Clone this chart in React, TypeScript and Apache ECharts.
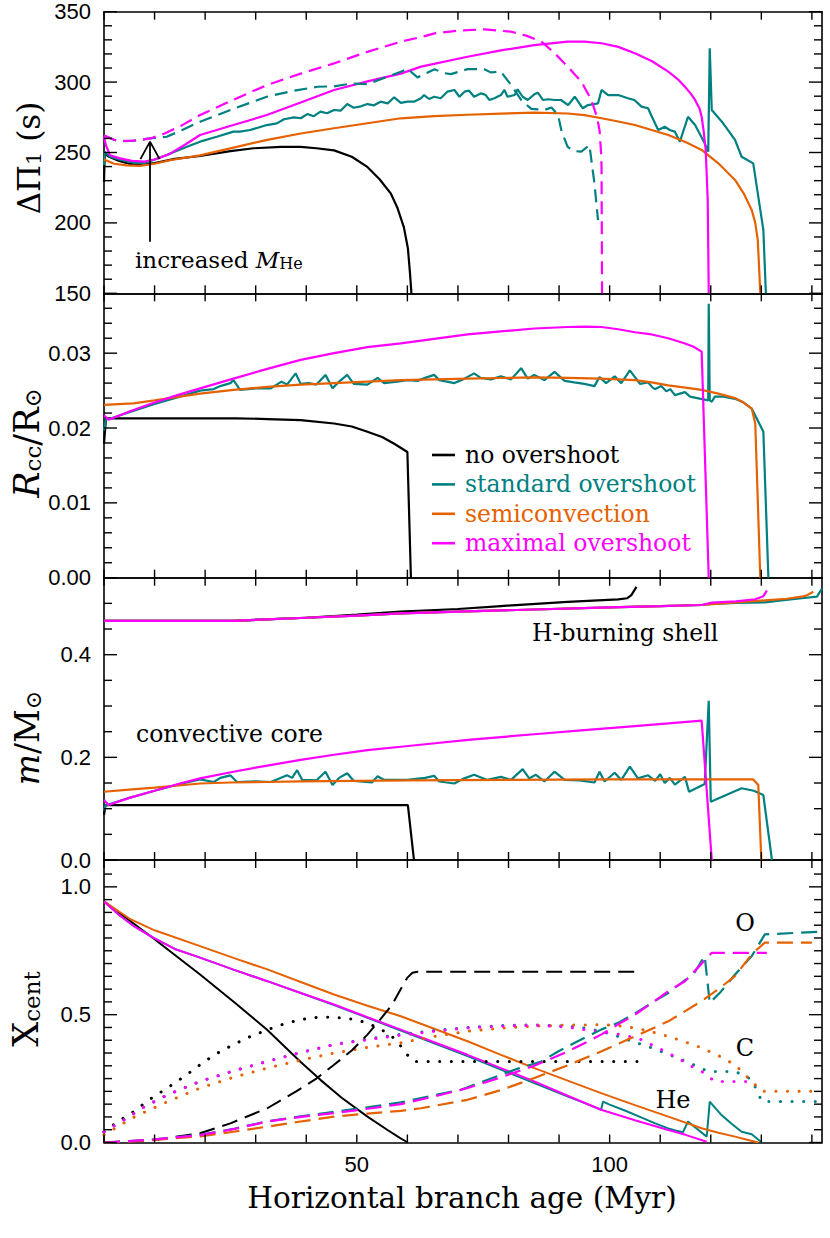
import React, { useEffect, useRef } from 'react';
import * as echarts from 'echarts';

const BLACK = '#000000';
const TEAL = '#008080';
const ORANGE = '#e66100';
const MAGENTA = '#ff00ff';
const SERIF = '"DejaVu Serif", serif';
const SANS = '"Liberation Sans", Arial, sans-serif';

const X_MAX = 142;
const xLabelValues = [50, 100];
const xTickValues = [0, 10, 20, 30, 40, 50, 60, 70, 80, 90, 100, 110, 120, 130, 140];

// tick values per panel
const p1Major = [150, 200, 250, 300, 350];
const p1Minor = [160, 170, 180, 190, 210, 220, 230, 240, 260, 270, 280, 290, 310, 320, 330, 340];
const p2Major = [0, 0.01, 0.02, 0.03];
const p2Minor = [0.002, 0.004, 0.006, 0.008, 0.012, 0.014, 0.016, 0.018, 0.022, 0.024, 0.026, 0.028, 0.032, 0.034, 0.036];
const p3Major = [0, 0.2, 0.4];
const p3Minor = [0.05, 0.1, 0.15, 0.25, 0.3, 0.35, 0.45, 0.5];
const p4Major = [0, 0.5, 1.0];
const p4Minor = [0.05, 0.1, 0.15, 0.2, 0.25, 0.3, 0.35, 0.4, 0.45, 0.55, 0.6, 0.65, 0.7, 0.75, 0.8, 0.85, 0.9, 0.95, 1.05];

// ---------- Panel 1: period spacing (s) ----------
const dpNone = [[0,229],[0.15,249],[1,247],[3,244],[5,242],[7,241],[10,242.5],[14,245.5],[19,247.5],[25,251],[29.6,253],[35,254],[38.9,254],[42,253],[45.5,251.5],[49,247],[52,240],[54.5,231],[56.7,221],[58,211],[59.3,197],[60.1,182],[60.5,165],[60.8,150]];
const dpStd = [[0,241],[0.15,250.5],[1.2,247],[3,245],[5.8,242.8],[7.8,242.3],[9.8,244.7],[12.4,248.2],[16.4,254.1],[19,257.7],[22.3,261.2],[25.6,264.8],[26.9,264.8],[28.9,266],[32.2,269.5],[34.2,270.7],[35.6,273.6],[37.6,275],[38.9,274.3],[40.2,277.3],[41.5,275.8],[42.8,279],[44.1,277.9],[45.5,280.2],[46.8,279.7],[48.1,284.4],[49.4,281.8],[50.8,282.8],[52.1,284.4],[53.4,283.5],[54.7,286.1],[56.1,284.9],[57.4,289.2],[58.7,285.2],[60,286.1],[61.3,286.1],[62.7,288.5],[63.3,290.8],[64.3,288],[65.3,289.6],[66.6,288.5],[67.9,293.2],[69.3,294.4],[70.3,289.6],[71.3,293.2],[72.2,293.9],[73.2,289.6],[74.6,292],[75.5,290.8],[76.2,287.3],[77.2,288.5],[78.5,290.8],[79.2,294.4],[79.8,289.6],[81.2,290.8],[81.8,294.9],[82.8,289.6],[83.8,287.3],[85.1,291.3],[85.8,292.5],[86.8,287.3],[87.8,287.8],[89.1,287.3],[90.4,287.3],[91.8,283.7],[93.1,289.6],[94.7,281.4],[95.7,283.7],[97.7,284.9],[98.4,294.4],[99.7,290.8],[101.7,290.8],[103.6,288.5],[104.9,287.3],[106.3,282.6],[107.6,281.4],[108.2,276.6],[109.6,266],[110.9,268.3],[111.9,266],[112.9,264.8],[113.9,257.7],[115.5,275.4],[116.9,269.5],[118.8,256.5],[119.5,250.6],[119.8,324],[120.2,280.2],[122.2,271.9],[124.8,258.9],[126.1,247],[128.4,242.3],[130.4,195],[130.9,150]];
const dpSemi = [[0,245],[2,242],[4.5,240.8],[7.1,240.5],[10,242],[13,244.5],[19,248],[25.6,253.5],[32.3,259],[38.9,263.5],[45.5,267.2],[52.1,270.8],[58.7,274.3],[65.3,275.8],[71.9,276.8],[78.5,277.6],[85.1,278.3],[91.7,277.7],[95,276.5],[98.4,274.3],[101.7,272],[105,269.5],[108.3,266],[111.6,262.4],[115,257.5],[118.2,251.8],[121.5,242.3],[124.8,230.5],[126.5,221],[128.1,209.2],[128.8,200],[129.3,187.8],[129.8,150]];
const dpMax = [[0,261],[0.4,255],[1.2,248],[3,246],[5.5,244],[8,243.5],[10,245],[13,249],[16,255.5],[19,262.4],[25.6,269.5],[32.2,276.6],[38.9,285.5],[45.5,294.4],[52.1,300.5],[58.7,306],[62.7,311],[71.9,318],[78.5,322.5],[85.1,326.3],[91.7,328.7],[95,328.7],[98.4,327.6],[101.7,325],[105,320.5],[108.3,315],[111.6,307.4],[113.5,302],[114.9,296.7],[116,292],[116.9,287.3],[117.8,281],[118.2,275.4],[118.6,265],[119,251.8],[119.4,216.3],[119.6,150]];
const dpStdHe = [[0,262],[2,259],[4,258],[6,258.5],[9,260],[12.4,261.2],[15.5,266],[19,271.9],[25.6,281],[32.2,289.6],[37,293.5],[42.2,296.7],[45.5,297],[49,299],[52.1,298.5],[55.4,303],[58.7,307.4],[60,309.5],[62,303.3],[63.5,306],[65.4,309.2],[67,306.5],[68.6,305.7],[71.9,309.2],[75.2,309.2],[76.5,306.9],[78.5,307.4],[80.5,298],[82.5,287.3],[84.5,281],[87.1,280.2],[88.5,282],[89.8,276.6],[90.5,265],[91.7,254],[93,251],[94.4,250.6],[96,255.3],[97,228],[97.7,202]];
const dpMaxHe = [[0,262],[2,259],[4,258.2],[5.8,258.4],[7.5,259],[9.2,260],[12,263.5],[15,268.5],[19,276.6],[25.6,287.5],[32.2,297.9],[38.9,306],[45.5,313.3],[52.1,321.5],[58.7,328.7],[62.7,332],[65.4,334.6],[70,336.5],[75.2,337.5],[80.5,335.8],[83.5,333],[86.5,328.7],[89,321],[91.7,311],[94.4,300.3],[96.4,287.3],[97.5,275],[98,266],[98.3,250],[98.4,240],[98.5,150]];
const arrowShaft = [[9.1,186.6],[9.1,257]];
const arrowHead = [[7.2,245.3],[9.1,257.7],[11.0,245.3]];

// ---------- Panel 2: convective core radius ----------
const rNone = [[0,0.0179],[0.4,0.0213],[10,0.02128],[19,0.0213],[26,0.0213],[32.3,0.0212],[38.9,0.02105],[45.5,0.0206],[49,0.0202],[52.1,0.0195],[55,0.0188],[57.4,0.0179],[60,0.0168],[60.7,0]];
const rStd = [[0,0.0197],[0.4,0.0212],[1,0.0212],[5,0.0221],[10,0.0232],[15,0.0242],[19,0.025],[21.7,0.0252],[23,0.0256],[25,0.026],[25.6,0.0264],[26.9,0.0251],[30,0.0253],[33,0.0253],[35.1,0.0262],[36.2,0.0258],[37.9,0.0273],[38.9,0.0259],[40.5,0.026],[42,0.0258],[43.8,0.0271],[45.2,0.0253],[46.5,0.0262],[48.1,0.0271],[49.4,0.0259],[52.1,0.0258],[54.1,0.0267],[55.4,0.026],[58,0.0262],[60,0.0264],[62,0.0263],[63.5,0.0267],[65.3,0.0271],[66.3,0.0264],[69.3,0.026],[71,0.0265],[73.2,0.0273],[74.5,0.0267],[76.5,0.0265],[78.5,0.0269],[80.5,0.0265],[82.5,0.028],[83.8,0.0266],[85.1,0.0271],[87.1,0.0264],[89.1,0.0275],[91.1,0.0263],[93,0.0261],[95,0.0259],[97,0.0256],[98,0.0268],[99.3,0.026],[101,0.0269],[102.3,0.026],[104,0.0277],[106,0.0259],[107.6,0.0261],[108.5,0.0254],[109,0.0252],[110.2,0.0256],[111.2,0.0249],[112,0.0252],[112.9,0.0244],[114.9,0.0248],[115.9,0.0242],[119.5,0.0237],[119.6,0.0366],[119.8,0.0237],[120.2,0.0235],[120.8,0.0242],[122.5,0.0242],[124.8,0.0239],[126.5,0.0234],[128.1,0.0226],[130.4,0.0195],[131.4,0]];
const rSemi = [[0,0.0231],[5.8,0.0233],[10,0.0237],[19,0.0246],[25.6,0.0251],[32.3,0.0255],[38.9,0.0258],[45.5,0.026],[52.1,0.0262],[58.7,0.0264],[65.3,0.0265],[71.9,0.0266],[78.5,0.02668],[85.1,0.02676],[91.7,0.0267],[98.3,0.0266],[105,0.0264],[108.3,0.0261],[111.6,0.0257],[115,0.0254],[118.2,0.0251],[121.5,0.0246],[124.8,0.024],[126.5,0.0234],[128.1,0.0226],[128.8,0.0206],[129.8,0]];
const rMax = [[0,0.0217],[0.9,0.0211],[5,0.0222],[10,0.0234],[15,0.0245],[19,0.0253],[25.6,0.0266],[32.3,0.0279],[38.9,0.0291],[45.5,0.03],[52.1,0.0308],[58.7,0.0313],[65.3,0.0319],[71.9,0.0325],[78.5,0.0329],[85.1,0.0333],[91.7,0.0335],[95.1,0.03355],[98.4,0.0335],[101.7,0.0332],[105,0.0328],[108.3,0.0325],[111.6,0.032],[114.9,0.0313],[116.5,0.0309],[118.2,0.0302],[119.6,0]];

// ---------- Panel 3: mass coordinates ----------
const shellNone = [[0,0.466],[25.6,0.466],[40,0.472],[50,0.478],[58.7,0.484],[70,0.489],[78.5,0.4948],[91.7,0.503],[101.7,0.5077],[103.5,0.51],[104.3,0.516],[105.3,0.532]];
const shellStd = [[0,0.466],[25.6,0.466],[40,0.472],[50,0.476],[58.7,0.4806],[70,0.484],[85.1,0.488],[100,0.492],[110,0.4945],[118.2,0.4968],[120.2,0.499],[125,0.501],[130.7,0.502],[134,0.506],[138,0.51],[141,0.513],[142,0.529]];
const shellSemi = [[0,0.466],[25.6,0.466],[40,0.472],[50,0.476],[58.7,0.4806],[70,0.484],[85.1,0.488],[100,0.492],[110,0.4945],[118.2,0.4968],[121,0.499],[125,0.502],[130.8,0.506],[135,0.509],[138,0.513],[139,0.5156],[140.3,0.5227]];
const shellMax = [[0,0.466],[25.6,0.466],[40,0.472],[50,0.476],[58.7,0.4806],[70,0.484],[85.1,0.488],[100,0.492],[110,0.4945],[118.2,0.4968],[120.2,0.5013],[125,0.504],[128.8,0.508],[130.4,0.514],[131.1,0.5247]];
const coreNone = [[0,0.088],[0.3,0.107],[60.1,0.107],[61.3,0]];
const coreStd = [[0,0.097],[0.3,0.107],[0.9,0.108],[5,0.121],[10,0.135],[15,0.148],[19,0.157],[21.7,0.152],[23,0.16],[25,0.165],[26.3,0.152],[30,0.153],[33,0.152],[36.2,0.165],[37.2,0.16],[38.2,0.175],[39.2,0.156],[42,0.155],[43.8,0.172],[45.2,0.146],[46.5,0.16],[48.1,0.169],[49.4,0.154],[53,0.151],[54.1,0.163],[55.4,0.156],[60,0.156],[63.5,0.16],[65.3,0.164],[66.3,0.153],[69.3,0.149],[71,0.158],[73.2,0.166],[75.8,0.156],[78.5,0.162],[80.5,0.156],[82.8,0.177],[84.1,0.159],[85.4,0.166],[87.1,0.153],[89.1,0.172],[91.1,0.156],[94,0.155],[97,0.151],[98,0.172],[99,0.153],[101,0.17],[102.3,0.156],[104,0.182],[105.6,0.159],[107.6,0.165],[109,0.154],[110,0.167],[110.9,0.15],[111.9,0.16],[112.9,0.147],[114.9,0.162],[115.7,0.133],[118.8,0.148],[119.6,0.31],[120,0.1136],[126.1,0.1397],[128.5,0.135],[130.4,0.1266],[132.1,0]];
const coreSemi = [[0,0.133],[5,0.137],[10,0.141],[19,0.149],[25,0.151],[32,0.152],[38.9,0.153],[50,0.154],[60,0.155],[80,0.156],[100,0.157],[128.4,0.157],[129.4,0.146],[130,0]];
const coreMax = [[0,0.117],[0.9,0.107],[5,0.121],[10,0.135],[15,0.149],[19,0.159],[25.6,0.172],[32.3,0.184],[38.9,0.195],[45.5,0.205],[52.1,0.214],[58.7,0.2207],[65,0.227],[72,0.234],[78.5,0.2395],[85.1,0.245],[95,0.253],[105,0.261],[111.6,0.266],[118.2,0.2715],[120.2,0]];

// ---------- Panel 4: central abundances ----------
const heNone = [[0,0.943],[10,0.795],[19,0.657],[26,0.545],[32.2,0.442],[38.9,0.315],[42.8,0.245],[47,0.175],[52.1,0.101],[56,0.05],[58.5,0.018],[60.1,0]];
const heStd = [[0,0.943],[3,0.89],[6,0.845],[9.8,0.8],[14,0.757],[19,0.723],[25.6,0.676],[32.3,0.631],[38.9,0.585],[45.5,0.538],[52.1,0.488],[58.7,0.438],[65.3,0.388],[71.9,0.338],[78.5,0.285],[85.1,0.232],[92,0.178],[95,0.155],[98.3,0.128],[98.7,0.16],[100,0.148],[103,0.125],[106,0.1],[109,0.075],[111.6,0.055],[113,0.047],[114.5,0.04],[115.5,0.082],[117,0.058],[119.2,0.023],[119.8,0.16],[122,0.11],[124,0.075],[126.1,0.042],[128.1,0.032],[130.1,0]];
const heSemi = [[0,0.943],[5,0.876],[10,0.83],[19,0.768],[25.6,0.722],[32.3,0.677],[38.9,0.628],[45.5,0.579],[52.1,0.535],[58.7,0.494],[65.3,0.445],[71.9,0.396],[78.5,0.343],[85.1,0.291],[91.7,0.242],[98.3,0.193],[105,0.146],[111.6,0.101],[118.2,0.056],[121.5,0.038],[124.8,0.023],[127,0.012],[129.4,0]];
const heMax = [[0,0.943],[3,0.89],[6,0.845],[9.8,0.8],[14,0.757],[19,0.723],[25.6,0.676],[32.3,0.631],[38.9,0.585],[45.5,0.54],[52.1,0.49],[58.7,0.4415],[65.3,0.392],[71.9,0.343],[78.5,0.291],[85.1,0.239],[91.7,0.183],[98.3,0.128],[105,0.087],[111.6,0.049],[115,0.03],[119.2,0.003]];
const cNone = [[0,0.042],[3,0.085],[5.9,0.121],[9,0.168],[12.5,0.213],[16,0.26],[19,0.304],[22,0.345],[25.6,0.383],[29,0.415],[32.3,0.441],[35.5,0.463],[38.9,0.481],[42,0.489],[45.5,0.49],[49,0.483],[52.1,0.468],[55,0.44],[57.3,0.409],[59,0.37],[60,0.343],[61.3,0.317],[105.6,0.317]];
const cStd = [[0,0.042],[3.9,0.088],[8,0.14],[12.5,0.186],[19,0.239],[25.6,0.28],[32.3,0.317],[38.9,0.352],[45.5,0.383],[52.1,0.405],[58.7,0.423],[65.3,0.438],[71.9,0.45],[78.5,0.457],[85.1,0.46],[91.7,0.455],[95,0.448],[98.3,0.435],[101.7,0.415],[104.5,0.395],[107.6,0.376],[110.5,0.353],[113.5,0.33],[116.5,0.305],[119.5,0.278],[124.8,0.278],[128.1,0.2465],[129.2,0.2],[130.1,0.16],[142,0.16]];
const cSemi = [[0,0.03],[3,0.065],[6,0.1],[12,0.155],[19,0.213],[25.6,0.255],[32.3,0.291],[38.9,0.322],[45.5,0.35],[52.1,0.372],[58.7,0.39],[65.3,0.415],[71.9,0.435],[78.5,0.447],[85.1,0.455],[91.7,0.459],[98.3,0.461],[101.7,0.457],[105,0.448],[108.3,0.433],[111.6,0.415],[115,0.393],[118.2,0.37],[121.5,0.34],[124.8,0.304],[128.1,0.239],[130.1,0.2],[140,0.2]];
const cMax = [[0,0.042],[3.9,0.088],[8,0.14],[12.5,0.186],[19,0.239],[25.6,0.28],[32.3,0.317],[38.9,0.352],[45.5,0.383],[52.1,0.402],[58.7,0.42],[65.3,0.435],[71.9,0.448],[78.5,0.455],[85.1,0.458],[91.7,0.452],[95,0.4415],[102.4,0.422],[106.3,0.402],[110.3,0.363],[113.5,0.33],[116.2,0.298],[118.2,0.278],[120.8,0.239],[127.5,0.239]];
const oNone = [[0,0],[10,0.01],[19,0.036],[25,0.075],[32.3,0.134],[38,0.2],[42,0.25],[45.5,0.304],[49,0.36],[52.1,0.422],[55,0.49],[57,0.54],[58.7,0.6],[60,0.645],[61,0.664],[62,0.668],[105.6,0.668]];
const oStd = [[0,0],[5,0.005],[10,0.012],[19,0.03],[25.6,0.053],[32.3,0.083],[38.9,0.102],[45.5,0.12],[52.1,0.138],[58.7,0.157],[65.3,0.185],[70.6,0.206],[78.5,0.265],[82,0.29],[86.5,0.317],[89.8,0.356],[93.7,0.396],[98.3,0.4415],[101.7,0.468],[105,0.505],[108.9,0.553],[111.6,0.585],[114.9,0.635],[116.5,0.655],[118.8,0.73],[119.8,0.546],[122,0.59],[124.8,0.657],[128.1,0.729],[130.7,0.814],[142,0.825]];
const oSemi = [[0,0],[5,0.004],[10,0.01],[19,0.024],[25.6,0.042],[32.3,0.062],[38.9,0.082],[45.5,0.101],[52.1,0.113],[58.7,0.124],[62.7,0.134],[71.9,0.167],[78.5,0.205],[85.1,0.252],[91.7,0.302],[98.3,0.356],[105,0.415],[111.6,0.474],[118.2,0.553],[121.5,0.6],[124.8,0.651],[128.1,0.736],[130.7,0.782],[140,0.782]];
const oMax = [[0,0],[5,0.005],[10,0.012],[19,0.029],[25.6,0.052],[32.3,0.082],[38.9,0.1],[45.5,0.115],[52.1,0.132],[58.7,0.15],[65.3,0.18],[71.9,0.213],[78.5,0.255],[81.8,0.278],[85.1,0.3],[91.7,0.356],[95,0.388],[98.3,0.422],[101.7,0.462],[105,0.5],[108.3,0.545],[111.6,0.592],[114.9,0.631],[117.5,0.685],[120.2,0.742],[131.1,0.742]];

const legendRows = [
  { label: 'no overshoot', color: BLACK },
  { label: 'standard overshoot', color: TEAL },
  { label: 'semiconvection', color: ORANGE },
  { label: 'maximal overshoot', color: MAGENTA },
];

const GRID_LEFT = 104;
const GRID_WIDTH = 718;
const grids = [
  { top: 11.7, height: 281.6 },
  { top: 293.3, height: 284.4 },
  { top: 577.7, height: 282.3 },
  { top: 860, height: 282.5 },
];

const isMult = (v: number, step: number) => Math.abs(v / step - Math.round(v / step)) < 1e-6;

const yRanges = [
  { min: 150, max: 350, major: 50, minor: 10, majors: p1Major, minors: p1Minor, fmt: (v: number) => String(v) },
  { min: 0, max: 0.038, major: 0.01, minor: 0.002, majors: p2Major, minors: p2Minor, fmt: (v: number) => (isMult(v, 0.01) ? v.toFixed(2) : '') },
  { min: 0, max: 0.55, major: 0.2, minor: 0.05, majors: p3Major, minors: p3Minor, fmt: (v: number) => (isMult(v, 0.2) ? v.toFixed(1) : '') },
  { min: 0, max: 1.105, major: 0.5, minor: 0.05, majors: p4Major, minors: p4Minor, fmt: (v: number) => (isMult(v, 0.5) ? v.toFixed(1) : '') },
];

function lineSeries(data: number[][], color: string, gi: number, kind: 'solid' | 'dashed' | 'dotted' = 'solid', width = 2.2) {
  let type: any = 'solid';
  let cap: any = 'butt';
  let w = width;
  if (kind === 'dashed') type = gi === 0 ? [13, 7] : [16, 8];
  if (kind === 'dotted') { type = [0.1, 11.5]; cap = 'round'; w = 3; }
  return {
    type: 'line',
    data,
    xAxisIndex: 2 * gi,
    yAxisIndex: 4 * gi,
    showSymbol: false,
    symbol: 'none',
    silent: true,
    clip: true,
    lineStyle: { color, width: w, type, cap },
  };
}

const TICK_STYLE = { stroke: '#000', lineWidth: 1.4 };

// ticks drawn through the axes' own scales (api.coord)
function xTickSeries(gi: number, yMin: number, yMax: number) {
  return {
    type: 'custom', xAxisIndex: 2 * gi, yAxisIndex: 4 * gi, silent: true, z: 6, clip: false,
    data: xTickValues.map((t) => [t, yMin]),
    renderItem: (_p: any, api: any) => {
      const t = api.value(0);
      const b = api.coord([t, yMin]);
      const tp = api.coord([t, yMax]);
      return {
        type: 'group',
        children: [
          { type: 'line', shape: { x1: b[0], y1: b[1], x2: b[0], y2: b[1] - 8 }, style: TICK_STYLE },
          { type: 'line', shape: { x1: tp[0], y1: tp[1], x2: tp[0], y2: tp[1] + 8 }, style: TICK_STYLE },
        ],
      };
    },
  };
}

function yTickSeries(gi: number, values: number[], len: number) {
  return {
    type: 'custom', xAxisIndex: 2 * gi, yAxisIndex: 4 * gi, silent: true, z: 6, clip: false,
    data: values.map((v) => [0, v]),
    renderItem: (_p: any, api: any) => {
      const v = api.value(1);
      const l = api.coord([0, v]);
      const r = api.coord([X_MAX, v]);
      return {
        type: 'group',
        children: [
          { type: 'line', shape: { x1: l[0], y1: l[1], x2: l[0] + len, y2: l[1] }, style: TICK_STYLE },
          { type: 'line', shape: { x1: r[0], y1: r[1], x2: r[0] - len, y2: r[1] }, style: TICK_STYLE },
        ],
      };
    },
  };
}

const mkLine = (show: boolean) => ({ show, onZero: false, lineStyle: { color: '#000', width: 1.6 } });

export default function App() {
  const ref = useRef<HTMLDivElement>(null);

  useEffect(() => {
    const chart = echarts.init(ref.current as HTMLDivElement, null, { renderer: 'svg' });

    const xAxis: any[] = [];
    grids.forEach((_, i) => {
      xAxis.push({
        type: 'value', gridIndex: i, position: 'bottom', min: 0, max: X_MAX, interval: 10,
        splitLine: { show: false }, axisLine: mkLine(true), axisTick: { show: false },
        axisLabel: i === 3 ? {
          show: true, margin: 11, color: '#000', fontFamily: SANS, fontSize: 22,
          formatter: (v: number) => (xLabelValues.indexOf(v) >= 0 ? String(v) : ''),
        } : { show: false },
      });
      xAxis.push({
        type: 'value', gridIndex: i, position: 'top', min: 0, max: X_MAX, interval: 10,
        splitLine: { show: false }, axisLine: mkLine(true), axisTick: { show: false }, axisLabel: { show: false },
      });
    });

    const yAxis: any[] = [];
    yRanges.forEach((r, i) => {
      yAxis.push({
        type: 'value', gridIndex: i, min: r.min, max: r.max, position: 'left', interval: r.major,
        splitLine: { show: false }, axisLine: mkLine(true), axisTick: { show: false },
        axisLabel: { show: true, margin: 13, color: '#000', fontFamily: SANS, fontSize: 22, formatter: r.fmt },
      });
      yAxis.push({
        type: 'value', gridIndex: i, min: r.min, max: r.max, position: 'left', interval: r.minor,
        splitLine: { show: false }, axisLine: mkLine(false), axisTick: { show: false }, axisLabel: { show: false },
      });
      yAxis.push({
        type: 'value', gridIndex: i, min: r.min, max: r.max, position: 'right', interval: r.major,
        splitLine: { show: false }, axisLine: mkLine(true), axisTick: { show: false }, axisLabel: { show: false },
      });
      yAxis.push({
        type: 'value', gridIndex: i, min: r.min, max: r.max, position: 'right', interval: r.minor,
        splitLine: { show: false }, axisLine: mkLine(false), axisTick: { show: false }, axisLabel: { show: false },
      });
    });

    const series: any[] = [
      lineSeries(dpNone, BLACK, 0),
      lineSeries(dpStd, TEAL, 0),
      lineSeries(dpSemi, ORANGE, 0),
      lineSeries(dpMax, MAGENTA, 0),
      lineSeries(dpStdHe, TEAL, 0, 'dashed'),
      lineSeries(dpMaxHe, MAGENTA, 0, 'dashed'),
      lineSeries(arrowShaft, BLACK, 0, 'solid', 1.8),
      lineSeries(arrowHead, BLACK, 0, 'solid', 1.8),

      lineSeries(rNone, BLACK, 1),
      lineSeries(rStd, TEAL, 1),
      lineSeries(rSemi, ORANGE, 1),
      lineSeries(rMax, MAGENTA, 1),

      lineSeries(shellNone, BLACK, 2),
      lineSeries(shellStd, TEAL, 2),
      lineSeries(shellSemi, ORANGE, 2),
      lineSeries(shellMax, MAGENTA, 2),
      lineSeries(coreNone, BLACK, 2),
      lineSeries(coreStd, TEAL, 2),
      lineSeries(coreSemi, ORANGE, 2),
      lineSeries(coreMax, MAGENTA, 2),

      lineSeries(heNone, BLACK, 3, 'solid', 2),
      lineSeries(heStd, TEAL, 3, 'solid', 2),
      lineSeries(heSemi, ORANGE, 3, 'solid', 2),
      lineSeries(heMax, MAGENTA, 3, 'solid', 2),
      lineSeries(cNone, BLACK, 3, 'dotted'),
      lineSeries(cStd, TEAL, 3, 'dotted'),
      lineSeries(cSemi, ORANGE, 3, 'dotted'),
      lineSeries(cMax, MAGENTA, 3, 'dotted'),
      lineSeries(oNone, BLACK, 3, 'dashed', 2),
      lineSeries(oStd, TEAL, 3, 'dashed', 2.2),
      lineSeries(oSemi, ORANGE, 3, 'dashed', 2.2),
      lineSeries(oMax, MAGENTA, 3, 'dashed', 2.2),
    ];

    yRanges.forEach((r, i) => {
      series.push(xTickSeries(i, r.min, r.max));
      series.push(yTickSeries(i, r.majors, 13));
      series.push(yTickSeries(i, r.minors, 8));
    });

    const txt = (text: string, x: number, y: number, size = 23.5, color = '#000', align = 'left') => ({
      type: 'text', x, y, silent: true, z: 100,
      style: { text, fill: color, fontFamily: SERIF, fontSize: size, align, verticalAlign: 'middle' },
    });

    const richBase = (size: number, lh: number, italic = false) => ({
      fontFamily: SERIF, fontSize: size, lineHeight: lh, verticalAlign: 'bottom',
      fontStyle: italic ? 'italic' : 'normal', fill: '#000', color: '#000',
    });

    const yName = (text: string, x: number, y: number, rich: any) => ({
      type: 'text', x, y, rotation: Math.PI / 2, silent: true, z: 100,
      style: { text, rich, fill: '#000', align: 'center', verticalAlign: 'middle' },
    });

    const graphic: any[] = [
      yName('{a|ΔΠ}{b|1}{a| (s)}', 26, 158, { a: richBase(31, 36), b: richBase(21, 16) }),
      yName('{i|R}{b|cc}{a|/R}{b|⊙}', 25, 443, { i: richBase(35, 38, true), a: richBase(35, 38), b: richBase(23, 16) }),
      yName('{i|m}{a|/M}{b|⊙}', 26, 738, { i: richBase(33, 36, true), a: richBase(33, 36), b: richBase(22, 16) }),
      yName('{a|X}{b|cent}', 24, 1009, { a: richBase(35, 38), b: richBase(23, 16) }),
      { type: 'text', x: 462, y: 1198, silent: true, style: { text: 'Horizontal branch age (Myr)', fill: '#000', fontFamily: SERIF, fontSize: 29.5, align: 'center', verticalAlign: 'middle' } },
      {
        type: 'text', x: 135, y: 257, silent: true, z: 100,
        style: {
          text: '{a|increased }{i|M}{s|He}', fill: '#000', align: 'left', verticalAlign: 'middle',
          rich: { a: richBase(23, 28), i: richBase(23, 28, true), s: richBase(16, 20) },
        },
      },
      txt('H-burning shell', 532, 633),
      txt('convective core', 136, 734),
      txt('O', 745, 923, 24, '#000', 'center'),
      txt('C', 745, 1048, 24, '#000', 'center'),
      txt('He', 673, 1100, 24, '#000', 'center'),
    ];

    legendRows.forEach((row, i) => {
      const y = 455 + i * 29.4;
      graphic.push({ type: 'line', silent: true, z: 100, shape: { x1: 432, y1: y, x2: 455, y2: y }, style: { stroke: row.color, lineWidth: 2.6 } });
      graphic.push(txt(row.label, 465, y, 23.5, row.color));
    });

    chart.setOption({
      animation: false,
      grid: grids.map((g) => ({ left: GRID_LEFT, width: GRID_WIDTH, top: g.top, height: g.height })),
      xAxis,
      yAxis,
      series,
      graphic,
    });

    return () => chart.dispose();
  }, []);

  return <div ref={ref} style={{ position: 'absolute', left: 0, top: 0, width: 830, height: 1238, background: '#fff' }} />;
}
